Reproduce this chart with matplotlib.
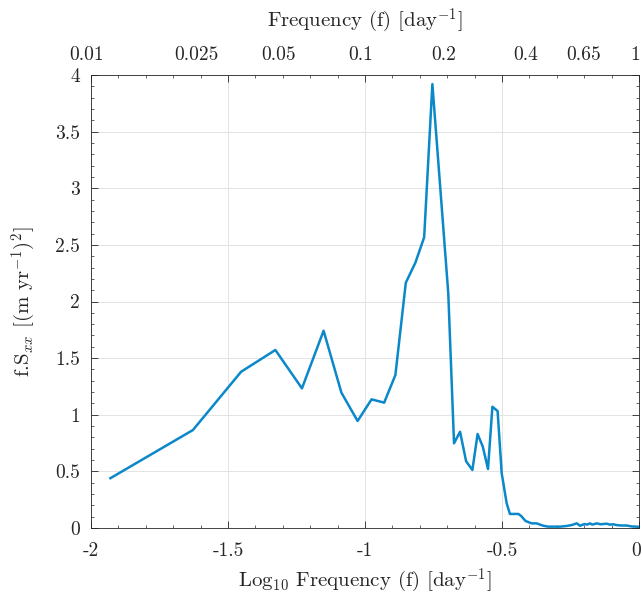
import matplotlib
matplotlib.use("Agg")
import matplotlib.pyplot as plt
import matplotlib.transforms as mtransforms
import numpy as np

# log10 of frequency [day^-1] and variance-preserving spectrum f.Sxx
log_freq = [-1.929, -1.628, -1.452, -1.327, -1.230, -1.151, -1.086, -1.027, -0.976, -0.930,
            -0.889, -0.851, -0.816, -0.784, -0.754, -0.696, -0.675, -0.653, -0.631, -0.608,
            -0.589, -0.570, -0.551, -0.535, -0.516, -0.501, -0.483, -0.471, -0.440, -0.430,
            -0.414, -0.392, -0.374, -0.349, -0.331, -0.288, -0.264, -0.246, -0.227, -0.215,
            -0.199, -0.189, -0.179, -0.170, -0.154, -0.140, -0.118, -0.106, -0.094, -0.082,
            -0.064, -0.045, -0.027, -0.009, 0.0]
fsxx = [0.44, 0.865, 1.38, 1.572, 1.233, 1.742, 1.195, 0.945, 1.136, 1.107,
        1.351, 2.166, 2.343, 2.567, 3.92, 2.072, 0.748, 0.85, 0.59, 0.512,
        0.83, 0.718, 0.521, 1.071, 1.033, 0.483, 0.22, 0.124, 0.124, 0.106,
        0.062, 0.041, 0.041, 0.02, 0.012, 0.012, 0.018, 0.026, 0.041, 0.02,
        0.035, 0.03, 0.041, 0.03, 0.041, 0.033, 0.038, 0.03, 0.033, 0.026,
        0.022, 0.022, 0.014, 0.012, 0.01]

# top axis labels in plain frequency
top_freq = [0.01, 0.025, 0.05, 0.1, 0.2, 0.4, 0.65, 1]
top_labels = ["0.01", "0.025", "0.05", "0.1", "0.2", "0.4", "0.65", "1"]

x_ticks = [-2, -1.5, -1, -0.5, 0]
x_ticklabels = ["-2", "-1.5", "-1", "-0.5", "0"]
y_ticks = [0, 0.5, 1, 1.5, 2, 2.5, 3, 3.5, 4]
y_ticklabels = ["0", "0.5", "1", "1.5", "2", "2.5", "3", "3.5", "4"]

plt.rcParams["font.family"] = "serif"
plt.rcParams["font.serif"] = ["cmr10"]
plt.rcParams["mathtext.fontset"] = "cm"
plt.rcParams["axes.unicode_minus"] = False
plt.rc("font", size=14)

txt = "#262626"

fig = plt.figure(figsize=(6.42, 5.94), dpi=100)
ax = fig.add_axes([0.1417, 0.1111, 0.8536, 0.7626])

ax.plot(log_freq, fsxx, color="#0a88c9", linewidth=1.8, zorder=3)

ax.set_xlim(-2, 0)
ax.set_ylim(0, 4)
ax.set_xticks(x_ticks)
ax.set_xticklabels(x_ticklabels)
ax.set_yticks(y_ticks)
ax.set_yticklabels(y_ticklabels)
ax.set_xticks(np.arange(-2, 0.001, 0.1), minor=True)
ax.set_yticks(np.arange(0, 4.001, 0.1), minor=True)
ax.tick_params(which="both", direction="in", top=True, right=True, colors=txt,
               labelcolor=txt)
ax.tick_params(which="major", length=5, width=0.6, labelsize=14)
ax.tick_params(axis="x", which="major", pad=10)
ax.tick_params(axis="y", which="major", pad=8)
ax.tick_params(which="minor", length=2.5, width=0.5)
ax.grid(which="major", color="#e3e3e3", linewidth=0.7)
ax.set_axisbelow(True)
for sp in ax.spines.values():
    sp.set_color(txt)
    sp.set_linewidth(0.6)

# nudge the last bottom label so it stays inside the figure
last = ax.get_xticklabels()[-1]
last.set_transform(last.get_transform()
                   + mtransforms.ScaledTranslation(-3 / 100, 0, fig.dpi_scale_trans))

ax.set_xlabel(r"Log$_{10}$ Frequency (f) [day$^{-1}$]", fontsize=15, color=txt, labelpad=5)
ax.set_ylabel(r"f.S$_{xx}$ [(m yr$^{-1}$)$^2$]", fontsize=15, color=txt, labelpad=12)

trans = mtransforms.blended_transform_factory(ax.transData, ax.transAxes)
shift = mtransforms.ScaledTranslation(-4 / 100, 0, fig.dpi_scale_trans)
for f, lab in zip(top_freq, top_labels):
    ax.text(np.log10(f), 1.025, lab, transform=trans + shift, ha="center", va="bottom",
            fontsize=14, color=txt)
ax.text(0.5, 1.088, r"Frequency (f) [day$^{-1}$]", transform=ax.transAxes,
        ha="center", va="bottom", fontsize=15, color=txt)

fig.savefig("out.png", dpi=100)
